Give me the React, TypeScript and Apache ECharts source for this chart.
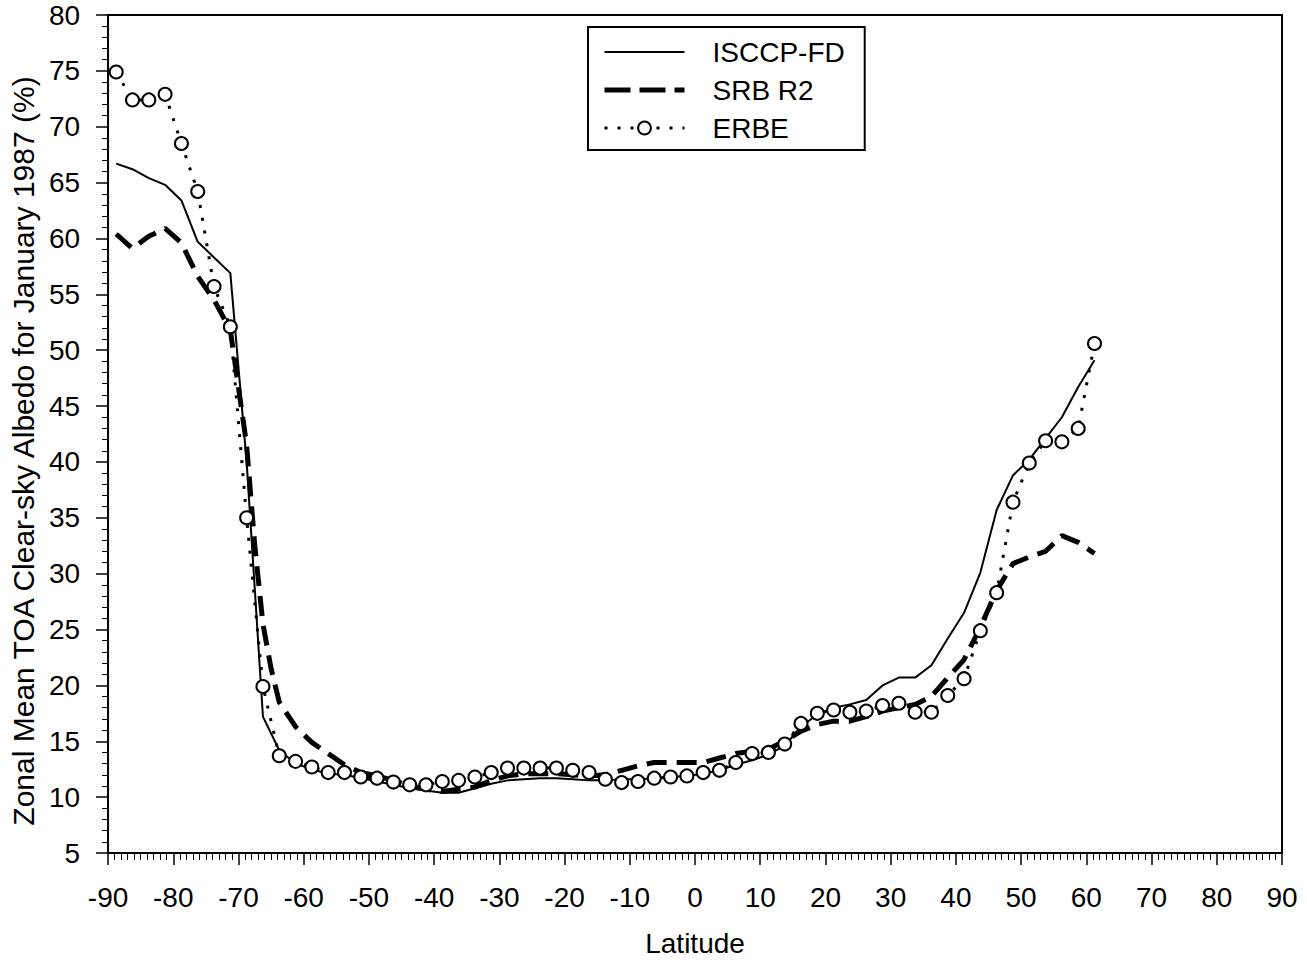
import React, { useEffect, useRef } from "react";
import * as echarts from "echarts";

const FONT = "'Liberation Sans', Arial, Helvetica, sans-serif";

const latitudes = [
  -88.75, -86.25, -83.75, -81.25, -78.75, -76.25, -73.75, -71.25, -68.75, -66.25,
  -63.75, -61.25, -58.75, -56.25, -53.75, -51.25, -48.75, -46.25, -43.75, -41.25,
  -38.75, -36.25, -33.75, -31.25, -28.75, -26.25, -23.75, -21.25, -18.75, -16.25,
  -13.75, -11.25, -8.75, -6.25, -3.75, -1.25, 1.25, 3.75, 6.25, 8.75,
  11.25, 13.75, 16.25, 18.75, 21.25, 23.75, 26.25, 28.75, 31.25, 33.75,
  36.25, 38.75, 41.25, 43.75, 46.25, 48.75, 51.25, 53.75, 56.25, 58.75, 61.25,
];

const isccpValues = [
  66.7, 66.2, 65.4, 64.8, 63.4, 59.7, 58.3, 56.9, 40.0, 17.2,
  14.2, 13.0, 12.5, 12.1, 12.0, 11.7, 11.4, 11.1, 10.8, 10.6,
  10.4, 10.4, 10.8, 11.2, 11.5, 11.6, 11.7, 11.7, 11.6, 11.5,
  11.5, 11.6, 11.6, 11.7, 11.8, 11.9, 12.1, 12.4, 12.9, 13.3,
  13.8, 14.6, 16.3, 17.4, 18.0, 18.3, 18.7, 20.0, 20.7, 20.7,
  21.8, 24.2, 26.5, 30.1, 35.7, 38.8, 40.2, 42.1, 44.0, 46.7, 49.1,
];

const erbeValues = [
  74.9, 72.4, 72.4, 72.9, 68.5, 64.2, 55.7, 52.1, 35.0, 19.9,
  13.7, 13.2, 12.7, 12.2, 12.2, 11.8, 11.7, 11.35, 11.1, 11.1,
  11.4, 11.5, 11.8, 12.2, 12.6, 12.6, 12.6, 12.6, 12.4, 12.2,
  11.6, 11.3, 11.4, 11.7, 11.8, 11.9, 12.2, 12.4, 13.1, 13.9,
  14.0, 14.75, 16.6, 17.5, 17.8, 17.6, 17.7, 18.2, 18.4, 17.6,
  17.6, 19.1, 20.6, 24.9, 28.3, 36.4, 39.9, 41.9, 41.8, 43.0, 50.6,
];

const srbLatitudes = [
  -88.75, -86.25, -83.75, -81.25, -78.75, -76.25, -73.75, -71.25, -68.75, -67.5,
  -66.25, -65.0, -63.75, -61.25, -58.75, -56.25, -53.75, -51.25, -48.75, -46.25,
  -43.75, -41.25, -38.75, -36.25, -33.75, -31.25, -28.75, -26.25, -23.75, -21.25,
  -18.75, -16.25, -13.75, -11.25, -8.75, -6.25, -3.75, -1.25, 1.25, 3.75,
  6.25, 8.75, 11.25, 13.75, 16.25, 18.75, 21.25, 23.75, 26.25, 28.75,
  31.25, 33.75, 36.25, 38.75, 41.25, 43.75, 46.25, 48.75, 51.25, 53.75,
  56.25, 58.75, 61.25,
];

const srbValues = [
  60.4, 59.1, 60.2, 60.9, 59.6, 56.6, 54.5, 51.8, 41.5, 32.5,
  25.5, 21.5, 18.5, 16.3, 14.9, 13.9, 12.9, 12.2, 11.9, 11.5,
  11.0, 10.7, 10.5, 10.7, 10.9, 11.5, 11.9, 12.1, 12.1, 12.1,
  12.0, 11.9, 12.0, 12.4, 12.8, 13.1, 13.1, 13.1, 13.1, 13.5,
  13.9, 14.1, 14.3, 15.0, 15.9, 16.5, 16.8, 16.8, 17.2, 17.7,
  18.0, 18.3, 19.0, 20.7, 22.3, 25.2, 28.5, 30.9, 31.5, 32.0,
  33.4, 32.8, 31.8,
];

const xTicks = { min: -90, max: 90, interval: 10 };
const yTicks = { min: 5, max: 80, interval: 5 };

function pairs(xs: number[], ys: number[]) {
  return xs.map((x, i) => [x, ys[i]]);
}

export default function App() {
  const ref = useRef<HTMLDivElement>(null);
  useEffect(() => {
    if (!ref.current) return;
    const chart = echarts.init(ref.current, null, { renderer: "svg" });
    const axisText = { color: "#000", fontSize: 28, fontFamily: FONT };
    const hiddenSymbol = { color: "rgba(0,0,0,0)", borderColor: "rgba(0,0,0,0)", borderWidth: 0 };
    chart.setOption({
      animation: false,
      backgroundColor: "#fff",
      grid: {
        left: 105,
        right: 25,
        top: 15,
        bottom: 110,
        show: true,
        borderColor: "#000",
        borderWidth: 2,
        backgroundColor: "transparent",
      },
      legend: {
        left: 588,
        top: 27,
        orient: "vertical",
        backgroundColor: "#fff",
        borderColor: "#000",
        borderWidth: 2,
        borderRadius: 0,
        padding: [11, 20, 8, 14],
        itemWidth: 80,
        itemHeight: 16,
        itemGap: 10,
        textStyle: { ...axisText, lineHeight: 28, padding: [0, 0, 0, 23] },
        data: [
          { name: "ISCCP-FD", itemStyle: hiddenSymbol, lineStyle: { color: "#000", width: 2, type: "solid" } },
          { name: "SRB R2", itemStyle: hiddenSymbol, lineStyle: { color: "#000", width: 5, type: [26, 9] } },
          {
            name: "ERBE",
            itemStyle: { color: "#fff", borderColor: "#000", borderWidth: 2 },
            lineStyle: { color: "#000", width: 3, type: [3, 10] },
          },
        ],
      },
      xAxis: {
        type: "value",
        min: xTicks.min,
        max: xTicks.max,
        interval: xTicks.interval,
        name: "Latitude",
        nameLocation: "middle",
        nameGap: 76,
        nameTextStyle: axisText,
        axisLine: { onZero: false, lineStyle: { color: "#000", width: 2 } },
        axisTick: { inside: false, length: 12, lineStyle: { color: "#000", width: 1.5 } },
        minorTick: { show: true, splitNumber: 10, length: 7, lineStyle: { color: "#000", width: 1 } },
        axisLabel: { ...axisText, margin: 30, showMinLabel: true, showMaxLabel: true },
        splitLine: { show: false },
      },
      yAxis: {
        type: "value",
        min: yTicks.min,
        max: yTicks.max,
        interval: yTicks.interval,
        name: "Zonal Mean TOA Clear-sky Albedo for January 1987 (%)",
        nameLocation: "middle",
        nameGap: 70,
        nameTextStyle: { ...axisText, fontSize: 30, padding: [0, 34, 0, 0] },
        axisLine: { onZero: false, lineStyle: { color: "#000", width: 2 } },
        axisTick: { inside: false, length: 12, lineStyle: { color: "#000", width: 1.5 } },
        minorTick: { show: true, splitNumber: 5, length: 6, lineStyle: { color: "#000", width: 1 } },
        axisLabel: { ...axisText, margin: 28, showMinLabel: true, showMaxLabel: true },
        splitLine: { show: false },
      },
      series: [
        {
          name: "ISCCP-FD",
          type: "line",
          data: pairs(latitudes, isccpValues),
          symbol: "none",
          color: "#000",
          lineStyle: { color: "#000", width: 2, type: "solid" },
          z: 2,
        },
        {
          name: "SRB R2",
          type: "line",
          data: pairs(srbLatitudes, srbValues),
          symbol: "none",
          color: "#000",
          lineStyle: { color: "#000", width: 5, type: [20, 10] },
          z: 3,
        },
        {
          name: "ERBE",
          type: "line",
          data: pairs(latitudes, erbeValues),
          symbol: "circle",
          symbolSize: 13,
          showAllSymbol: true,
          color: "#000",
          itemStyle: { color: "#fff", borderColor: "#000", borderWidth: 2 },
          lineStyle: { color: "#000", width: 3, type: [3, 10] },
          z: 4,
        },
      ],
    });
    return () => chart.dispose();
  }, []);
  return (
    <div
      ref={ref}
      style={{ position: "absolute", left: 0, top: 0, width: 1307, height: 963, background: "#fff" }}
    />
  );
}
